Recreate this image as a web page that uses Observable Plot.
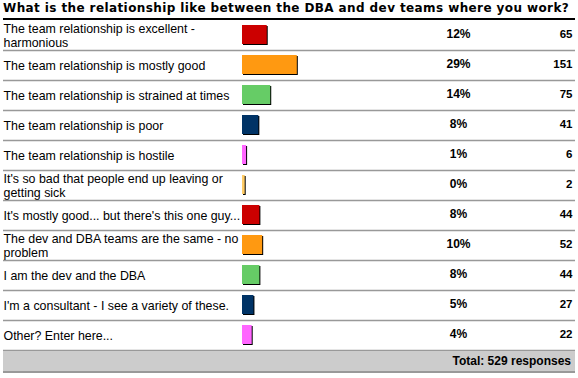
<!DOCTYPE html>
<html>
<head>
<meta charset="utf-8">
<script src="https://cdn.jsdelivr.net/npm/d3@7"></script>
<script src="https://cdn.jsdelivr.net/npm/@observablehq/plot@0.6"></script>
<style>
  body { margin: 0; background: #fff; width: 578px; height: 378px; overflow: hidden; }
  #title { margin: 0 3px; height: 18px; border-bottom: 2px solid #000; font: bold 12px "DejaVu Sans", Verdana, sans-serif; letter-spacing: 0.4px; line-height: 17px; white-space: nowrap; color: #000; }
  #total { margin: 0 3px; height: 20px; background: #cccccc; border-top: 1px solid #999; border-bottom: 2px solid #999; font: bold 12px "Liberation Sans", Arial, sans-serif; line-height: 20px; text-align: right; padding-right: 4px; color: #000; }
  #chart svg { display: block; }
</style>
</head>
<body>
<div id="title"></div>
<div id="chart"></div>
<div id="total"></div>
<script>
const titleText = "What is the relationship like between the DBA and dev teams where you work?";
const labels = [
  "The team relationship is excellent -\nharmonious",
  "The team relationship is mostly good",
  "The team relationship is strained at times",
  "The team relationship is poor",
  "The team relationship is hostile",
  "It's so bad that people end up leaving or\ngetting sick",
  "It's mostly good... but there's this one guy...",
  "The dev and DBA teams are the same - no\nproblem",
  "I am the dev and the DBA",
  "I'm a consultant - I see a variety of these.",
  "Other? Enter here..."
];
const counts = [65, 151, 75, 41, 6, 2, 44, 52, 44, 27, 22];
const percents = [12, 29, 14, 8, 1, 0, 8, 10, 8, 5, 4];
const colors = ["#cc0000", "#ff9911", "#66cc66", "#003366", "#ff66ff", "#ffcc66",
                "#cc0000", "#ff9911", "#66cc66", "#003366", "#ff66ff"];
const totalResponses = 529;

const rows = labels.map((label, i) => ({label, count: counts[i], pct: percents[i], color: colors[i]}));

document.getElementById("title").textContent = titleText;
document.getElementById("total").textContent = `Total: ${totalResponses} responses`;

const chart = Plot.plot({
  width: 578,
  height: 330,
  marginTop: 0, marginBottom: 0, marginLeft: 3, marginRight: 3,
  style: {fontFamily: "'Liberation Sans', Arial, sans-serif", fontSize: "12.4px", color: "#000", background: "#fff"},
  x: {domain: [0, totalResponses], range: [242, 427], axis: null},
  y: {type: "band", domain: labels, range: [0, 330], padding: 0, axis: null},
  color: {type: "identity"},
  marks: [
    Plot.ruleY(rows, {y: "label", dy: 15, stroke: "#999", strokeWidth: 1.5}),
    Plot.barX(rows, {y: "label", x1: 0, x2: "count", fill: "#000", insetTop: 5, insetBottom: 6, insetRight: -2, dx: 1, dy: 1}),
    Plot.barX(rows, {y: "label", x1: 0, x2: "count", fill: "color", insetTop: 5, insetBottom: 6, insetRight: -2}),
    Plot.text(rows, {y: "label", text: "label", frameAnchor: "left", textAnchor: "start", lineHeight: 1.15, dy: 0, fill: "#000"}),
    Plot.text(rows, {y: "label", text: d => `${d.pct}%`, frameAnchor: "right", dx: -117, textAnchor: "middle", fontWeight: "bold", fontSize: 12, dy: -1, fill: "#000"}),
    Plot.text(rows, {y: "label", text: "count", frameAnchor: "right", dx: -3, textAnchor: "end", fontWeight: "bold", fontSize: 11.5, dy: -1, fill: "#000"})
  ]
});
document.getElementById("chart").appendChild(chart);
</script>
</body>
</html>
